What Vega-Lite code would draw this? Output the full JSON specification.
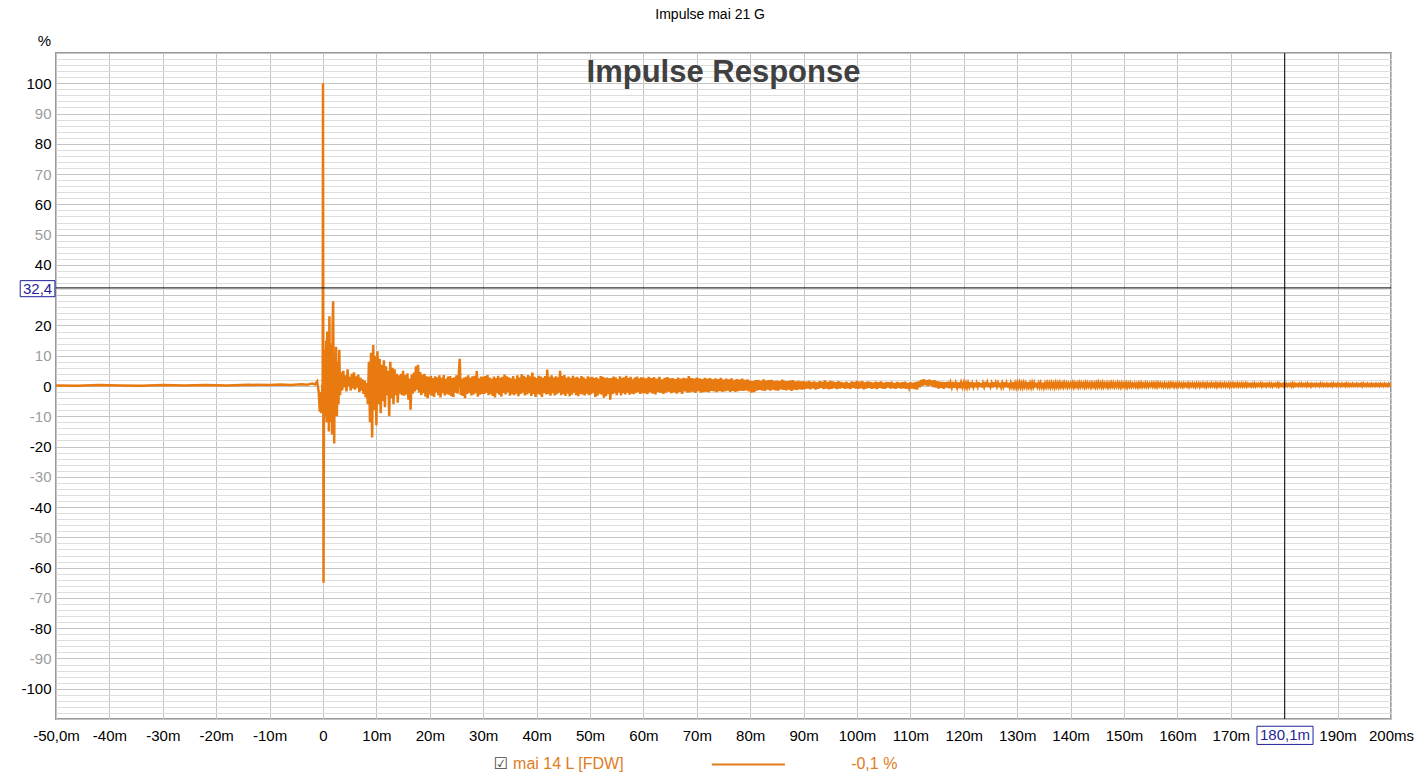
{
  "$schema": "https://vega.github.io/schema/vega-lite/v6.json",
  "autosize": {"type": "none"},
  "width": 1335,
  "height": 666,
  "padding": {"left": 56, "top": 53, "right": 28, "bottom": 62},
  "background": "white",
  "data": {"values": [{}]},
  "config": {"view": {"stroke": "#9a9a9a", "strokeWidth": 2}, "font": "Liberation Sans"},
  "layer": [
    {
      "data": {"values": [
        {"t":-50,"v":0.2},{"t":-46,"v":0.1},{"t":-42,"v":0.3},{"t":-38,"v":0.2},{"t":-34,"v":0.1},{"t":-30,"v":0.3},{"t":-26,"v":0.2},{"t":-22,"v":0.3},{"t":-18,"v":0.2},{"t":-14,"v":0.4},{"t":-10,"v":0.3},{"t":-8,"v":0.5},{"t":-6,"v":0.3},{"t":-4,"v":0.6},{"t":-3,"v":0.4},{"t":-2,"v":0.8},{"t":-1.5,"v":0.5},{"t":-1.1,"v":1.5},{"t":-0.8,"v":-2},{"t":-0.6,"v":-8.5},{"t":-0.45,"v":-2},{"t":-0.3,"v":-9},{"t":-0.15,"v":-1},{"t":-0.05,"v":2},{"t":0,"v":100},{"t":0.1,"v":-65},{"t":0.2,"v":8},
        {"t":0.3,"v":-10},{"t":0.4,"v":12},{"t":0.5,"v":-8},{"t":0.6,"v":15},{"t":0.7,"v":-12},{"t":0.8,"v":18},{"t":0.9,"v":-9},{"t":1.0,"v":10},{"t":1.1,"v":-15},{"t":1.2,"v":23},{"t":1.3,"v":-6},{"t":1.4,"v":14},{"t":1.5,"v":-12},{"t":1.6,"v":9},{"t":1.7,"v":-16},{"t":1.8,"v":20},{"t":1.9,"v":28},{"t":2.0,"v":-5},{"t":2.1,"v":-19},{"t":2.2,"v":10},{"t":2.3,"v":-8},{"t":2.45,"v":13},{"t":2.6,"v":-10},{"t":2.75,"v":8},{"t":2.9,"v":-6},{"t":3.05,"v":12},{"t":3.2,"v":-3},
        {"t":3.4,"v":4.5},{"t":3.6,"v":-1.5},{"t":3.8,"v":5.0},{"t":4.0,"v":-0.5},{"t":4.2,"v":3.5},{"t":4.4,"v":-1.8},{"t":4.6,"v":5.5},{"t":4.8,"v":0.0},{"t":5.0,"v":3.0},{"t":5.2,"v":-1.5},{"t":5.4,"v":4.0},{"t":5.6,"v":-0.8},{"t":5.8,"v":4.5},{"t":6.0,"v":-1.2},{"t":6.2,"v":3.2},{"t":6.4,"v":-0.5},{"t":6.6,"v":3.8},{"t":6.8,"v":-2.0},{"t":7.0,"v":2.8},{"t":7.2,"v":-1.5},{"t":7.4,"v":2.2},{"t":7.6,"v":-2.6},{"t":7.8,"v":1.8},{"t":8.0,"v":-3.8},{"t":8.2,"v":1.0},
        {"t":8.4,"v":-6},{"t":8.6,"v":8},{"t":8.8,"v":-12},{"t":9.0,"v":11},{"t":9.2,"v":-17},{"t":9.4,"v":13.5},{"t":9.6,"v":-8},{"t":9.8,"v":10},{"t":10.0,"v":-13},{"t":10.2,"v":11.5},{"t":10.4,"v":-6},{"t":10.6,"v":9},{"t":10.8,"v":-9},{"t":11.0,"v":7},{"t":11.2,"v":-5},{"t":11.4,"v":8.5},{"t":11.6,"v":-7},{"t":11.8,"v":6.5},{"t":12.0,"v":-3},{"t":12.2,"v":5},{"t":12.4,"v":-10},{"t":12.6,"v":8},{"t":12.8,"v":-4},{"t":13.0,"v":6},{"t":13.2,"v":-6},{"t":13.4,"v":5.5},{"t":13.6,"v":-3},{"t":13.8,"v":4},{"t":14.0,"v":-5.5},
        {"t":14.2,"v":3.5},{"t":14.4,"v":-2.5},{"t":14.6,"v":4.0},{"t":14.8,"v":-3.0},{"t":15.0,"v":5.0},{"t":15.2,"v":-3.2},{"t":15.4,"v":3.6},{"t":15.6,"v":-2.8},{"t":15.8,"v":4.2},{"t":16.0,"v":-4.5},{"t":16.2,"v":2.5},{"t":16.4,"v":-7.8},{"t":16.6,"v":3.8},{"t":16.8,"v":-2.5},{"t":17.0,"v":4.4},{"t":17.2,"v":-1.8},{"t":17.4,"v":6.5},{"t":17.6,"v":-1.2},{"t":17.8,"v":7.0},{"t":18.0,"v":-2.2},{"t":18.2,"v":4.6},{"t":18.4,"v":-3.0},{"t":18.6,"v":3.8},{"t":18.8,"v":-2.4},{"t":19.0,"v":4.0},{"t":19.2,"v":-3.5},{"t":19.4,"v":3.2},{"t":19.6,"v":-4.0},{"t":19.8,"v":3.0},{"t":20.0,"v":-2.8},{"t":20.2,"v":3.4},{"t":20.4,"v":-3.2},{"t":20.6,"v":2.6},{"t":20.8,"v":-3.6},{"t":21.0,"v":3.2},{"t":21.2,"v":-2.1},{"t":21.4,"v":2.9},{"t":21.6,"v":-3.0},{"t":21.8,"v":3.5},{"t":22.0,"v":-3.8},{"t":22.2,"v":2.7},{"t":22.4,"v":-2.4},{"t":22.6,"v":3.6},{"t":22.8,"v":-3.1},{"t":23.0,"v":2.4},{"t":23.2,"v":-2.7},{"t":23.4,"v":3.1},{"t":23.6,"v":-2.9},{"t":23.8,"v":3.3},{"t":24.0,"v":-3.4},{"t":24.2,"v":2.6},{"t":24.4,"v":-3.6},{"t":24.6,"v":2.9},{"t":24.8,"v":-2.2},{"t":25.0,"v":3.5},{"t":25.2,"v":-2.5},{"t":25.4,"v":3.0},{"t":25.6,"v":9.0},{"t":25.8,"v":-3.0},{"t":26.0,"v":2.4},{"t":26.2,"v":-3.3},{"t":26.4,"v":2.8},{"t":26.6,"v":-4.0},{"t":26.8,"v":3.0},{"t":27.0,"v":-2.6},{"t":27.2,"v":3.5},{"t":27.4,"v":-2.3},{"t":27.6,"v":2.7},{"t":27.8,"v":-3.1},{"t":28.0,"v":3.2},{"t":28.2,"v":-2.8},{"t":28.4,"v":3.4},{"t":28.6,"v":-2.4},{"t":28.8,"v":4.9},{"t":29.0,"v":-3.5},{"t":29.2,"v":2.5},{"t":29.4,"v":-2.9},{"t":29.6,"v":3.1},{"t":29.8,"v":-2.6},
        {"t":30.0,"v":3.0},{"t":30.2,"v":-2.6},{"t":30.4,"v":3.3},{"t":30.6,"v":-2.2},{"t":30.8,"v":3.6},{"t":31.0,"v":-3.0},{"t":31.2,"v":2.8},{"t":31.4,"v":-2.7},{"t":31.6,"v":2.4},{"t":31.8,"v":-3.3},{"t":32.0,"v":3.1},{"t":32.2,"v":-3.8},{"t":32.4,"v":2.6},{"t":32.6,"v":-2.4},{"t":32.8,"v":3.4},{"t":33.0,"v":-2.9},{"t":33.2,"v":2.7},{"t":33.4,"v":-3.5},{"t":33.6,"v":3.0},{"t":33.8,"v":-2.3},{"t":34.0,"v":3.8},{"t":34.2,"v":-2.8},{"t":34.4,"v":3.2},{"t":34.6,"v":-2.1},{"t":34.8,"v":2.9},{"t":35.0,"v":-3.2},{"t":35.2,"v":2.5},{"t":35.4,"v":-2.7},{"t":35.6,"v":3.3},{"t":35.8,"v":-3.0},{"t":36.0,"v":2.4},{"t":36.2,"v":-2.5},{"t":36.4,"v":3.5},{"t":36.6,"v":-3.4},{"t":36.8,"v":2.8},{"t":37.0,"v":-2.6},{"t":37.2,"v":3.9},{"t":37.4,"v":-2.2},{"t":37.6,"v":3.4},{"t":37.8,"v":-3.1},{"t":38.0,"v":2.9},{"t":38.2,"v":-2.8},{"t":38.4,"v":3.6},{"t":38.6,"v":-2.4},{"t":38.8,"v":3.2},{"t":39.0,"v":-3.3},{"t":39.2,"v":4.4},{"t":39.4,"v":-2.7},{"t":39.6,"v":3.0},{"t":39.8,"v":-3.6},
        {"t":40.0,"v":2.6},{"t":40.2,"v":-2.5},{"t":40.4,"v":3.4},{"t":40.6,"v":-2.9},{"t":40.8,"v":3.1},{"t":41.0,"v":-3.6},{"t":41.2,"v":2.7},{"t":41.4,"v":-2.3},{"t":41.6,"v":3.3},{"t":41.8,"v":-2.8},{"t":42.0,"v":5.4},{"t":42.2,"v":-2.6},{"t":42.4,"v":3.0},{"t":42.6,"v":-3.2},{"t":42.8,"v":3.5},{"t":43.0,"v":-2.4},{"t":43.2,"v":2.8},{"t":43.4,"v":-3.1},{"t":43.6,"v":3.2},{"t":43.8,"v":-2.7},{"t":44.0,"v":2.9},{"t":44.2,"v":-2.2},{"t":44.4,"v":5.0},{"t":44.6,"v":-3.0},{"t":44.8,"v":3.3},{"t":45.0,"v":-2.6},{"t":45.2,"v":3.6},{"t":45.4,"v":-3.3},{"t":45.6,"v":2.7},{"t":45.8,"v":-2.5},{"t":46.0,"v":3.1},{"t":46.2,"v":-3.4},{"t":46.4,"v":2.6},{"t":46.6,"v":-2.9},{"t":46.8,"v":3.4},{"t":47.0,"v":-2.2},{"t":47.2,"v":2.8},{"t":47.4,"v":-3.0},{"t":47.6,"v":3.0},{"t":47.8,"v":-3.4},{"t":48.0,"v":2.5},{"t":48.2,"v":-2.6},{"t":48.4,"v":3.3},{"t":48.6,"v":-2.8},{"t":48.8,"v":2.9},{"t":49.0,"v":-3.1},{"t":49.2,"v":2.4},{"t":49.4,"v":-2.5},{"t":49.6,"v":3.2},{"t":49.8,"v":-3.0},
        {"t":50.0,"v":2.8},{"t":50.2,"v":-2.7},{"t":50.4,"v":3.0},{"t":50.6,"v":-2.3},{"t":50.8,"v":2.6},{"t":51.0,"v":-3.6},{"t":51.2,"v":2.9},{"t":51.4,"v":-3.2},{"t":51.6,"v":2.4},{"t":51.8,"v":-2.5},{"t":52.0,"v":3.3},{"t":52.2,"v":-2.9},{"t":52.4,"v":3.0},{"t":52.6,"v":-3.9},{"t":52.8,"v":2.7},{"t":53.0,"v":-3.4},{"t":53.2,"v":2.8},{"t":53.4,"v":-2.6},{"t":53.6,"v":2.5},{"t":53.8,"v":-4.5},{"t":54.0,"v":2.6},{"t":54.2,"v":-2.7},{"t":54.4,"v":3.1},{"t":54.6,"v":-2.4},{"t":54.8,"v":2.9},{"t":55.0,"v":-3.0},{"t":55.2,"v":2.3},{"t":55.4,"v":-2.2},{"t":55.6,"v":3.2},{"t":55.8,"v":-3.1},{"t":56.0,"v":2.7},{"t":56.2,"v":-2.4},{"t":56.4,"v":2.9},{"t":56.6,"v":-2.8},{"t":56.8,"v":3.4},{"t":57.0,"v":-2.2},{"t":57.2,"v":2.6},{"t":57.4,"v":-2.9},{"t":57.6,"v":3.0},{"t":57.8,"v":-2.5},{"t":58.0,"v":2.2},{"t":58.2,"v":-2.7},{"t":58.4,"v":2.8},{"t":58.6,"v":-2.3},{"t":58.8,"v":3.1},{"t":59.0,"v":-2.0},{"t":59.2,"v":2.5},{"t":59.4,"v":-2.6},{"t":59.6,"v":2.9},{"t":59.8,"v":-2.4},
        {"t":60.0,"v":2.8},{"t":60.25,"v":-2.4},{"t":60.5,"v":2.5},{"t":60.75,"v":-2.7},{"t":61.0,"v":3.0},{"t":61.25,"v":-2.1},{"t":61.5,"v":2.6},{"t":61.75,"v":-2.5},{"t":62.0,"v":2.9},{"t":62.25,"v":-2.8},{"t":62.5,"v":2.4},{"t":62.75,"v":-2.0},{"t":63.0,"v":3.0},{"t":63.25,"v":-2.3},{"t":63.5,"v":2.2},{"t":63.75,"v":-2.6},{"t":64.0,"v":2.7},{"t":64.25,"v":-2.2},{"t":64.5,"v":2.9},{"t":64.75,"v":-1.9},{"t":65.0,"v":2.5},{"t":65.25,"v":-2.4},{"t":65.5,"v":2.6},{"t":65.75,"v":-2.1},{"t":66.0,"v":2.3},{"t":66.25,"v":-2.5},{"t":66.5,"v":2.8},{"t":66.75,"v":-2.0},{"t":67.0,"v":2.4},{"t":67.25,"v":-2.6},{"t":67.5,"v":2.7},{"t":67.75,"v":-1.8},{"t":68.0,"v":2.5},{"t":68.25,"v":-2.2},{"t":68.5,"v":3.3},{"t":68.75,"v":-2.1},{"t":69.0,"v":2.6},{"t":69.25,"v":-1.9},{"t":69.5,"v":2.4},{"t":69.75,"v":-2.3},
        {"t":70.0,"v":2.8},{"t":70.25,"v":-1.7},{"t":70.5,"v":2.5},{"t":70.75,"v":-2.2},{"t":71.0,"v":2.3},{"t":71.25,"v":-2.0},{"t":71.5,"v":2.7},{"t":71.75,"v":-1.9},{"t":72.0,"v":2.4},{"t":72.25,"v":-2.1},{"t":72.5,"v":2.6},{"t":72.75,"v":-1.6},{"t":73.0,"v":2.2},{"t":73.25,"v":-1.8},{"t":73.5,"v":2.5},{"t":73.75,"v":-2.0},{"t":74.0,"v":2.3},{"t":74.25,"v":-1.7},{"t":74.5,"v":2.7},{"t":74.75,"v":-1.9},{"t":75.0,"v":2.1},{"t":75.25,"v":-1.8},{"t":75.5,"v":2.4},{"t":75.75,"v":-1.5},{"t":76.0,"v":2.2},{"t":76.25,"v":-1.9},{"t":76.5,"v":2.5},{"t":76.75,"v":-1.6},{"t":77.0,"v":2.0},{"t":77.25,"v":-1.9},{"t":77.5,"v":2.3},{"t":77.75,"v":-1.7},{"t":78.0,"v":2.1},{"t":78.25,"v":-1.5},{"t":78.5,"v":2.4},{"t":78.75,"v":-1.6},{"t":79.0,"v":2.0},{"t":79.25,"v":-1.4},{"t":79.5,"v":2.2},{"t":79.75,"v":-1.8},
        {"t":80.0,"v":1.8},{"t":80.25,"v":-2.2},{"t":80.5,"v":1.6},{"t":80.75,"v":-2.0},{"t":81.0,"v":1.9},{"t":81.25,"v":-1.5},{"t":81.5,"v":2.0},{"t":81.75,"v":-1.3},{"t":82.0,"v":1.7},{"t":82.25,"v":-1.4},{"t":82.5,"v":2.2},{"t":82.75,"v":-1.6},{"t":83.0,"v":1.8},{"t":83.25,"v":-1.2},{"t":83.5,"v":1.9},{"t":83.75,"v":-1.5},{"t":84.0,"v":2.0},{"t":84.25,"v":-1.2},{"t":84.5,"v":1.7},{"t":84.75,"v":-1.4},{"t":85.0,"v":1.8},{"t":85.25,"v":-1.5},{"t":85.5,"v":1.6},{"t":85.75,"v":-1.1},{"t":86.0,"v":2.1},{"t":86.25,"v":-1.3},{"t":86.5,"v":1.7},{"t":86.75,"v":-1.4},{"t":87.0,"v":1.6},{"t":87.25,"v":-1.2},{"t":87.5,"v":1.8},{"t":87.75,"v":-1.6},{"t":88.0,"v":1.9},{"t":88.25,"v":-1.2},{"t":88.5,"v":1.5},{"t":88.75,"v":-1.3},{"t":89.0,"v":1.7},{"t":89.25,"v":-1.1},{"t":89.5,"v":1.5},{"t":89.75,"v":-1.2},
        {"t":90.0,"v":1.6},{"t":90.25,"v":-1.0},{"t":90.5,"v":1.4},{"t":90.75,"v":-0.8},{"t":91.0,"v":1.7},{"t":91.25,"v":-1.1},{"t":91.5,"v":1.3},{"t":91.75,"v":-0.7},{"t":92.0,"v":1.5},{"t":92.25,"v":-1.2},{"t":92.5,"v":1.2},{"t":92.75,"v":-0.9},{"t":93.0,"v":1.6},{"t":93.25,"v":-0.6},{"t":93.5,"v":1.4},{"t":93.75,"v":-1.0},{"t":94.0,"v":1.8},{"t":94.25,"v":-0.8},{"t":94.5,"v":1.3},{"t":94.75,"v":-1.1},{"t":95.0,"v":1.7},{"t":95.25,"v":-0.9},{"t":95.5,"v":1.5},{"t":95.75,"v":-0.7},{"t":96.0,"v":1.2},{"t":96.25,"v":-1.0},{"t":96.5,"v":1.6},{"t":96.75,"v":-0.8},{"t":97.0,"v":1.3},{"t":97.25,"v":-0.6},{"t":97.5,"v":1.1},{"t":97.75,"v":-0.9},{"t":98.0,"v":1.4},{"t":98.25,"v":-0.7},{"t":98.5,"v":1.0},{"t":98.75,"v":-1.0},{"t":99.0,"v":1.5},{"t":99.25,"v":-0.6},{"t":99.5,"v":1.3},{"t":99.75,"v":-0.8},
        {"t":100.0,"v":1.7},{"t":100.25,"v":-0.9},{"t":100.5,"v":1.4},{"t":100.75,"v":-0.7},{"t":101.0,"v":1.6},{"t":101.25,"v":-1.1},{"t":101.5,"v":1.2},{"t":101.75,"v":-0.8},{"t":102.0,"v":1.5},{"t":102.25,"v":-0.6},{"t":102.5,"v":1.3},{"t":102.75,"v":-0.9},{"t":103.0,"v":1.1},{"t":103.25,"v":-0.7},{"t":103.5,"v":1.4},{"t":103.75,"v":-1.0},{"t":104.0,"v":1.2},{"t":104.25,"v":-0.6},{"t":104.5,"v":1.5},{"t":104.75,"v":-0.8},{"t":105.0,"v":1.1},{"t":105.25,"v":-0.9},{"t":105.5,"v":1.3},{"t":105.75,"v":-0.5},{"t":106.0,"v":1.2},{"t":106.25,"v":-0.8},{"t":106.5,"v":1.4},{"t":106.75,"v":-0.7},{"t":107.0,"v":1.0},{"t":107.25,"v":-0.9},{"t":107.5,"v":1.3},{"t":107.75,"v":-0.6},{"t":108.0,"v":1.1},{"t":108.25,"v":-0.8},{"t":108.5,"v":1.2},{"t":108.75,"v":-0.7},{"t":109.0,"v":1.4},{"t":109.25,"v":-0.9},{"t":109.5,"v":1.0},{"t":109.75,"v":-0.6},
        {"t":110.0,"v":1.2},{"t":110.25,"v":-0.8},{"t":110.5,"v":1.1},{"t":110.75,"v":-1.0},{"t":111.0,"v":1.3},{"t":111.25,"v":-1.2},{"t":111.5,"v":1.5},{"t":111.75,"v":-0.4},{"t":112.0,"v":2.0},{"t":112.25,"v":0.1},{"t":112.5,"v":2.2},{"t":112.75,"v":0.3},{"t":113.0,"v":1.9},{"t":113.25,"v":0.0},{"t":113.5,"v":2.1},{"t":113.75,"v":0.2},{"t":114.0,"v":1.8},{"t":114.25,"v":-0.3},{"t":114.5,"v":1.9},{"t":114.75,"v":-0.5},{"t":115.0,"v":1.6},{"t":115.25,"v":-0.8},{"t":115.5,"v":1.4},{"t":115.75,"v":-0.6},{"t":116.0,"v":1.3},{"t":116.25,"v":-0.9},{"t":116.5,"v":1.2},{"t":116.75,"v":-0.5},{"t":117.0,"v":1.4},{"t":117.25,"v":-0.7},{"t":117.5,"v":1.1},{"t":117.75,"v":-0.4},{"t":118.0,"v":1.3},{"t":118.25,"v":-0.6},{"t":118.5,"v":1.0},{"t":118.75,"v":-0.5},{"t":119.0,"v":1.2},{"t":119.25,"v":-0.7},{"t":119.5,"v":1.1},{"t":119.75,"v":-0.4},
        {"t":120.0,"v":1.1},{"t":120.2,"v":-0.3},{"t":120.4,"v":0.9},{"t":120.6,"v":-0.4},{"t":120.8,"v":1.0},{"t":121.0,"v":-0.2},{"t":121.2,"v":1.2},{"t":121.4,"v":-0.5},{"t":121.6,"v":0.8},{"t":121.8,"v":-0.3},
        {"t":122.0,"v":1.1},{"t":122.2,"v":-0.4},{"t":122.4,"v":0.9},{"t":122.6,"v":-0.2},{"t":122.8,"v":1.2},{"t":123.0,"v":-0.3},{"t":123.2,"v":1.0},{"t":123.4,"v":-0.5},{"t":123.6,"v":0.9},{"t":123.8,"v":-0.2},
        {"t":124.0,"v":1.3},{"t":124.2,"v":-0.3},{"t":124.4,"v":1.0},{"t":124.6,"v":-0.4},{"t":124.8,"v":1.1},{"t":125.0,"v":-0.2},{"t":125.2,"v":0.9},{"t":125.4,"v":-0.5},{"t":125.6,"v":1.2},{"t":125.8,"v":-0.3},
        {"t":126.0,"v":1.0},{"t":126.2,"v":-0.2},{"t":126.4,"v":0.9},{"t":126.6,"v":-0.4},{"t":126.8,"v":1.1},{"t":127.0,"v":-0.3},{"t":127.2,"v":1.0},{"t":127.4,"v":-0.2},{"t":127.6,"v":1.2},{"t":127.8,"v":-0.4},
        {"t":128.0,"v":0.9},{"t":128.2,"v":-0.5},{"t":128.4,"v":1.1},{"t":128.6,"v":-0.3},{"t":128.8,"v":1.0},{"t":129.0,"v":-0.2},{"t":129.2,"v":1.2},{"t":129.4,"v":-0.3},{"t":129.6,"v":0.9},{"t":129.8,"v":-0.4},
        {"t":130.0,"v":1.0},{"t":130.2,"v":-0.2},{"t":130.4,"v":1.1},{"t":130.6,"v":-0.3},{"t":130.8,"v":0.9},{"t":131.0,"v":-0.4},{"t":131.2,"v":1.0},{"t":131.4,"v":-0.2},{"t":131.6,"v":0.9},{"t":131.8,"v":-0.3},
        {"t":132.0,"v":1.2},{"t":132.2,"v":-0.2},{"t":132.4,"v":0.9},{"t":132.6,"v":-0.4},{"t":132.8,"v":1.0},{"t":133.0,"v":-0.3},{"t":133.2,"v":0.9},{"t":133.4,"v":-0.5},{"t":133.6,"v":1.1},{"t":133.8,"v":-0.2},
        {"t":134.0,"v":0.9},{"t":134.2,"v":-0.3},{"t":134.4,"v":1.0},{"t":134.6,"v":-0.2},{"t":134.8,"v":1.1},{"t":135.0,"v":-0.4},{"t":135.2,"v":0.8},{"t":135.4,"v":-0.3},{"t":135.6,"v":1.0},{"t":135.8,"v":-0.2},
        {"t":136.0,"v":0.9},{"t":136.2,"v":-0.3},{"t":136.4,"v":1.0},{"t":136.6,"v":-0.2},{"t":136.8,"v":0.8},{"t":137.0,"v":-0.4},{"t":137.2,"v":1.0},{"t":137.4,"v":-0.2},{"t":137.6,"v":0.9},{"t":137.8,"v":-0.3},
        {"t":138.0,"v":1.0},{"t":138.2,"v":-0.2},{"t":138.4,"v":0.8},{"t":138.6,"v":-0.3},{"t":138.8,"v":1.0},{"t":139.0,"v":-0.1},{"t":139.2,"v":0.9},{"t":139.4,"v":-0.3},{"t":139.6,"v":0.8},{"t":139.8,"v":-0.2},
        {"t":140.0,"v":0.8},{"t":140.2,"v":-0.2},{"t":140.4,"v":1.0},{"t":140.6,"v":-0.3},{"t":140.8,"v":0.9},{"t":141.0,"v":-0.1},{"t":141.2,"v":0.8},{"t":141.4,"v":-0.3},{"t":141.6,"v":1.0},{"t":141.8,"v":-0.2},
        {"t":142.0,"v":0.9},{"t":142.2,"v":-0.1},{"t":142.4,"v":0.8},{"t":142.6,"v":-0.3},{"t":142.8,"v":1.0},{"t":143.0,"v":-0.2},{"t":143.2,"v":0.9},{"t":143.4,"v":-0.1},{"t":143.6,"v":0.8},{"t":143.8,"v":-0.3},
        {"t":144.0,"v":0.9},{"t":144.2,"v":-0.1},{"t":144.4,"v":0.8},{"t":144.6,"v":-0.3},{"t":144.8,"v":0.9},{"t":145.0,"v":-0.2},{"t":145.2,"v":1.1},{"t":145.4,"v":-0.1},{"t":145.6,"v":0.8},{"t":145.8,"v":-0.3},
        {"t":146.0,"v":1.0},{"t":146.2,"v":-0.2},{"t":146.4,"v":0.8},{"t":146.6,"v":-0.1},{"t":146.8,"v":0.9},{"t":147.0,"v":-0.3},{"t":147.2,"v":0.8},{"t":147.4,"v":-0.2},{"t":147.6,"v":1.0},{"t":147.8,"v":-0.1},
        {"t":148.0,"v":0.9},{"t":148.2,"v":-0.2},{"t":148.4,"v":0.8},{"t":148.6,"v":-0.1},{"t":148.8,"v":1.0},{"t":149.0,"v":-0.2},{"t":149.2,"v":0.8},{"t":149.4,"v":-0.3},{"t":149.6,"v":0.9},{"t":149.8,"v":-0.1},
        {"t":150.0,"v":0.8},{"t":150.2,"v":-0.2},{"t":150.4,"v":0.9},{"t":150.6,"v":-0.3},{"t":150.8,"v":0.8},{"t":151.0,"v":-0.1},{"t":151.2,"v":0.9},{"t":151.4,"v":-0.2},{"t":151.6,"v":0.7},{"t":151.8,"v":-0.1},
        {"t":152.0,"v":0.8},{"t":152.2,"v":-0.2},{"t":152.4,"v":0.7},{"t":152.6,"v":-0.3},{"t":152.8,"v":0.8},{"t":153.0,"v":-0.1},{"t":153.2,"v":0.9},{"t":153.4,"v":-0.2},{"t":153.6,"v":0.7},{"t":153.8,"v":-0.1},
        {"t":154.0,"v":0.9},{"t":154.2,"v":-0.1},{"t":154.4,"v":0.8},{"t":154.6,"v":-0.2},{"t":154.8,"v":0.7},{"t":155.0,"v":0.0},{"t":155.2,"v":0.9},{"t":155.4,"v":-0.1},{"t":155.6,"v":0.8},{"t":155.8,"v":-0.2},
        {"t":156.0,"v":0.8},{"t":156.2,"v":-0.2},{"t":156.4,"v":0.9},{"t":156.6,"v":0.0},{"t":156.8,"v":0.8},{"t":157.0,"v":-0.1},{"t":157.2,"v":0.7},{"t":157.4,"v":-0.2},{"t":157.6,"v":0.8},{"t":157.8,"v":-0.1},
        {"t":158.0,"v":0.7},{"t":158.2,"v":-0.2},{"t":158.4,"v":0.8},{"t":158.6,"v":-0.1},{"t":158.8,"v":0.9},{"t":159.0,"v":0.0},{"t":159.2,"v":0.8},{"t":159.4,"v":-0.2},{"t":159.6,"v":0.7},{"t":159.8,"v":-0.1},
        {"t":160.0,"v":0.9},{"t":160.2,"v":0.0},{"t":160.4,"v":0.8},{"t":160.6,"v":-0.1},{"t":160.8,"v":0.7},{"t":161.0,"v":-0.2},{"t":161.2,"v":0.8},{"t":161.4,"v":0.0},{"t":161.6,"v":0.7},{"t":161.8,"v":-0.1},
        {"t":162.0,"v":0.8},{"t":162.2,"v":-0.2},{"t":162.4,"v":0.7},{"t":162.6,"v":0.0},{"t":162.8,"v":0.8},{"t":163.0,"v":-0.1},{"t":163.2,"v":0.7},{"t":163.4,"v":-0.2},{"t":163.6,"v":0.8},{"t":163.8,"v":0.0},
        {"t":164.0,"v":0.8},{"t":164.2,"v":-0.2},{"t":164.4,"v":0.7},{"t":164.6,"v":0.0},{"t":164.8,"v":0.8},{"t":165.0,"v":-0.1},{"t":165.2,"v":0.7},{"t":165.4,"v":-0.2},{"t":165.6,"v":0.8},{"t":165.8,"v":0.0},
        {"t":166.0,"v":0.7},{"t":166.2,"v":-0.1},{"t":166.4,"v":0.8},{"t":166.6,"v":0.0},{"t":166.8,"v":0.7},{"t":167.0,"v":-0.1},{"t":167.2,"v":0.8},{"t":167.4,"v":-0.2},{"t":167.6,"v":0.7},{"t":167.8,"v":0.0},
        {"t":168.0,"v":0.8},{"t":168.2,"v":-0.1},{"t":168.4,"v":0.7},{"t":168.6,"v":0.0},{"t":168.8,"v":0.8},{"t":169.0,"v":-0.1},{"t":169.2,"v":0.7},{"t":169.4,"v":0.0},{"t":169.6,"v":0.8},{"t":169.8,"v":-0.2},
        {"t":170.0,"v":0.7},{"t":170.2,"v":0.0},{"t":170.4,"v":0.8},{"t":170.6,"v":-0.1},{"t":170.8,"v":0.7},{"t":171.0,"v":0.0},{"t":171.2,"v":0.8},{"t":171.4,"v":-0.1},{"t":171.6,"v":0.7},{"t":171.8,"v":0.0},
        {"t":172.0,"v":0.8},{"t":172.2,"v":-0.1},{"t":172.4,"v":0.7},{"t":172.6,"v":0.0},{"t":172.8,"v":0.8},{"t":173.0,"v":-0.1},{"t":173.2,"v":0.7},{"t":173.4,"v":0.0},{"t":173.6,"v":0.6},{"t":173.8,"v":-0.1},
        {"t":174.0,"v":0.7},{"t":174.2,"v":0.0},{"t":174.4,"v":0.8},{"t":174.6,"v":-0.1},{"t":174.8,"v":0.6},{"t":175.0,"v":0.0},{"t":175.2,"v":0.7},{"t":175.4,"v":0.1},{"t":175.6,"v":0.8},{"t":175.8,"v":-0.1},
        {"t":176.0,"v":0.7},{"t":176.2,"v":0.0},{"t":176.4,"v":0.6},{"t":176.6,"v":-0.1},{"t":176.8,"v":0.7},{"t":177.0,"v":0.1},{"t":177.2,"v":0.8},{"t":177.4,"v":0.0},{"t":177.6,"v":0.7},{"t":177.8,"v":-0.1},
        {"t":178.0,"v":0.6},{"t":178.2,"v":0.1},{"t":178.4,"v":0.7},{"t":178.6,"v":0.0},{"t":178.8,"v":0.8},{"t":179.0,"v":-0.1},{"t":179.2,"v":0.7},{"t":179.4,"v":0.1},{"t":179.6,"v":0.6},{"t":179.8,"v":0.0},
        {"t":180.0,"v":0.8},{"t":180.2,"v":0.1},{"t":180.4,"v":0.7},{"t":180.6,"v":0.0},{"t":180.8,"v":0.6},{"t":181.0,"v":0.1},{"t":181.2,"v":0.7},{"t":181.4,"v":-0.1},{"t":181.6,"v":0.8},{"t":181.8,"v":0.0},
        {"t":182.0,"v":0.7},{"t":182.2,"v":0.1},{"t":182.4,"v":0.6},{"t":182.6,"v":0.0},{"t":182.8,"v":0.7},{"t":183.0,"v":0.1},{"t":183.2,"v":0.8},{"t":183.4,"v":0.0},{"t":183.6,"v":0.6},{"t":183.8,"v":0.1},
        {"t":184.0,"v":0.7},{"t":184.2,"v":0.0},{"t":184.4,"v":0.8},{"t":184.6,"v":0.1},{"t":184.8,"v":0.6},{"t":185.0,"v":-0.1},{"t":185.2,"v":0.7},{"t":185.4,"v":0.1},{"t":185.6,"v":0.6},{"t":185.8,"v":0.0},
        {"t":186.0,"v":0.7},{"t":186.2,"v":0.1},{"t":186.4,"v":0.6},{"t":186.6,"v":0.0},{"t":186.8,"v":0.8},{"t":187.0,"v":0.1},{"t":187.2,"v":0.7},{"t":187.4,"v":0.0},{"t":187.6,"v":0.6},{"t":187.8,"v":0.1},
        {"t":188.0,"v":0.7},{"t":188.2,"v":0.0},{"t":188.4,"v":0.6},{"t":188.6,"v":0.1},{"t":188.8,"v":0.7},{"t":189.0,"v":0.0},{"t":189.2,"v":0.8},{"t":189.4,"v":0.1},{"t":189.6,"v":0.6},{"t":189.8,"v":0.0},
        {"t":190.0,"v":0.7},{"t":190.2,"v":0.1},{"t":190.4,"v":0.6},{"t":190.6,"v":0.0},{"t":190.8,"v":0.7},{"t":191.0,"v":0.1},{"t":191.2,"v":0.6},{"t":191.4,"v":0.0},{"t":191.6,"v":0.8},{"t":191.8,"v":0.1},
        {"t":192.0,"v":0.7},{"t":192.2,"v":0.0},{"t":192.4,"v":0.6},{"t":192.6,"v":0.1},{"t":192.8,"v":0.7},{"t":193.0,"v":0.0},{"t":193.2,"v":0.6},{"t":193.4,"v":0.1},{"t":193.6,"v":0.7},{"t":193.8,"v":0.0},
        {"t":194.0,"v":0.6},{"t":194.2,"v":0.1},{"t":194.4,"v":0.7},{"t":194.6,"v":0.0},{"t":194.8,"v":0.8},{"t":195.0,"v":0.1},{"t":195.2,"v":0.6},{"t":195.4,"v":0.0},{"t":195.6,"v":0.7},{"t":195.8,"v":0.1},
        {"t":196.0,"v":0.6},{"t":196.2,"v":0.0},{"t":196.4,"v":0.7},{"t":196.6,"v":0.1},{"t":196.8,"v":0.6},{"t":197.0,"v":0.0},{"t":197.2,"v":0.7},{"t":197.4,"v":0.1},{"t":197.6,"v":0.6},{"t":197.8,"v":0.0},
        {"t":198.0,"v":0.7},{"t":198.2,"v":0.1},{"t":198.4,"v":0.6},{"t":198.6,"v":0.0},{"t":198.8,"v":0.7},{"t":199.0,"v":0.1},{"t":199.2,"v":0.6},{"t":199.4,"v":0.0},{"t":199.6,"v":0.7},{"t":199.8,"v":0.1},{"t":200.0,"v":0.4}
      ]},
      "mark": {"type": "line", "color": "#E87A10", "strokeWidth": 2.5, "clip": true},
      "encoding": {
        "x": {
          "field": "t", "type": "quantitative",
          "scale": {"domain": [-50, 200], "nice": false, "zero": false},
          "axis": {
            "title": null,
            "values": [-50, -40, -30, -20, -10, 0, 10, 20, 30, 40, 50, 60, 70, 80, 90, 100, 110, 120, 130, 140, 150, 160, 170, 180, 190, 200],
            "grid": true, "gridColor": "#c4c4c4", "ticks": false, "domain": false,
            "labelFont": "Liberation Sans", "labelFontSize": 15, "labelColor": "#000000", "labelPadding": 9,
            "labelOverlap": false, "labelFlush": false,
            "labelExpr": "datum.value == -50 ? '-50,0m' : datum.value == 0 ? '0' : datum.value == 200 ? '200ms' : datum.value == 180 ? '' : datum.value + 'm'"
          }
        },
        "y": {
          "field": "v", "type": "quantitative",
          "scale": {"domain": [-110, 110], "nice": false, "zero": false},
          "axis": {
            "title": "%", "titleAngle": 0, "titleX": -12, "titleY": -13, "titleAlign": "center", "titleBaseline": "middle",
            "titleFont": "Liberation Sans", "titleFontSize": 15, "titleFontWeight": "normal", "titleColor": "#000000",
            "tickCount": 110, "grid": true,
            "gridColor": {"condition": {"test": "datum.value % 10 == 0", "value": "#c4c4c4"}, "value": "#dddddd"},
            "ticks": false, "domain": false,
            "labelFont": "Liberation Sans", "labelFontSize": 15, "labelPadding": 5, "labelOverlap": false, "labelFlush": false,
            "labelColor": {"condition": {"test": "abs(datum.value) % 20 == 10", "value": "#9c9c9c"}, "value": "#000000"},
            "labelExpr": "(datum.value % 10 == 0 && datum.value != 30 && abs(datum.value) <= 100) ? datum.value : ''"
          }
        }
      }
    },
    {"mark": {"type": "rule", "color": "#000000", "strokeWidth": 1}, "encoding": {"y": {"datum": 32.4}}},
    {"mark": {"type": "rule", "color": "#000000", "strokeWidth": 1}, "encoding": {"x": {"datum": 180.1}}},
    {"mark": {"type": "rect", "fill": "#ffffff", "stroke": "#1f1f9a", "strokeWidth": 1}, "encoding": {"x": {"datum": -56.7}, "x2": {"datum": -50.2}, "y": {"datum": 34.8}, "y2": {"datum": 29.5}}},
    {"mark": {"type": "text", "text": "32,4", "font": "Liberation Sans", "fontSize": 15, "color": "#1f1f9a", "align": "center", "baseline": "middle"}, "encoding": {"x": {"datum": -53.45}, "y": {"datum": 32.15}}},
    {"mark": {"type": "rect", "fill": "#ffffff", "stroke": "#1f1f9a", "strokeWidth": 1}, "encoding": {"x": {"datum": 174.9}, "x2": {"datum": 185.4}, "y": {"datum": -112.4}, "y2": {"datum": -118.4}}},
    {"mark": {"type": "text", "text": "180,1m", "font": "Liberation Sans", "fontSize": 15, "color": "#1f1f9a", "align": "center", "baseline": "middle"}, "encoding": {"x": {"datum": 180.15}, "y": {"datum": -115.4}}},
    {"mark": {"type": "text", "text": "Impulse Response", "font": "Liberation Sans", "fontSize": 31, "fontWeight": "bold", "color": "#404040", "align": "center", "baseline": "middle"}, "encoding": {"x": {"datum": 75}, "y": {"datum": 103.5}}},
    {"mark": {"type": "text", "text": "Impulse mai 21 G", "font": "Liberation Sans", "fontSize": 14, "color": "#000000", "align": "center", "baseline": "middle"}, "encoding": {"x": {"datum": 72.5}, "y": {"datum": 122.6}}},
    {"mark": {"type": "text", "text": "☑", "font": "DejaVu Sans", "fontSize": 16, "color": "#444444", "align": "center", "baseline": "middle"}, "encoding": {"x": {"datum": 33.3}, "y": {"datum": -125}}},
    {"mark": {"type": "text", "text": "mai 14 L [FDW]", "font": "Liberation Sans", "fontSize": 16, "color": "#E07C1E", "align": "left", "baseline": "middle"}, "encoding": {"x": {"datum": 35.6}, "y": {"datum": -125}}},
    {"mark": {"type": "rule", "color": "#E07C1E", "strokeWidth": 2}, "encoding": {"x": {"datum": 72.8}, "x2": {"datum": 86.5}, "y": {"datum": -125}}},
    {"mark": {"type": "text", "text": "-0,1 %", "font": "Liberation Sans", "fontSize": 16, "color": "#E07C1E", "align": "left", "baseline": "middle"}, "encoding": {"x": {"datum": 98.9}, "y": {"datum": -125}}}
  ]
}
